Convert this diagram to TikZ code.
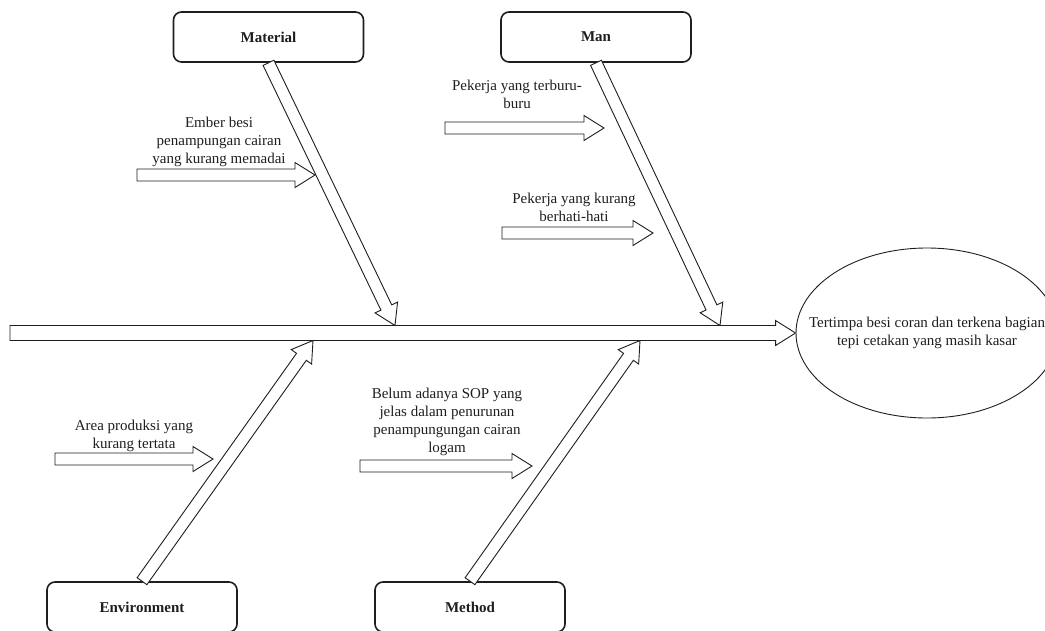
\documentclass[tikz,border=0pt]{standalone}
\usepackage{fontspec}
\setmainfont{Liberation Serif}
\usetikzlibrary{shapes.geometric, positioning, calc}
\definecolor{inkgray}{RGB}{30, 30, 30}

% hollow block arrow: [shaft half width]{from}{to}
\newcommand{\hollowarrow}[3][6pt]{%
  \coordinate (ha-base) at ($(#3)!20pt!(#2)$);
  \draw[arrowline] ($(#2)!#1!90:(#3)$) -- ($(ha-base)!#1!-90:(#2)$)
    -- ($(ha-base)!12.5pt!-90:(#2)$) -- (#3) -- ($(ha-base)!12.5pt!90:(#2)$)
    -- ($(ha-base)!#1!90:(#2)$) -- ($(#2)!#1!-90:(#3)$) -- cycle;
}
\newcommand{\labelsize}{\fontsize{15}{18}\selectfont}

\begin{document}
\begin{tikzpicture}[x=1pt, y=-1pt,
    catbox/.style={draw=inkgray, line width=1.6pt, rounded corners=8pt, fill=white,
          minimum width=190pt, minimum height=50pt, font=\labelsize\bfseries, text=inkgray},
    arrowline/.style={draw=inkgray, line width=0.9pt, fill=white, line join=miter},
    causetext/.style={align=center, inner sep=0pt, font=\labelsize, text=inkgray}]
    \useasboundingbox (0,0) rectangle (1045,630);
    \clip (0,0) rectangle (1045,630);

    % effect
    \node[draw=inkgray, ellipse, line width=0.9pt, minimum width=262pt, minimum height=170pt,
          inner sep=0pt] (effect) at (927,333) {};
    \node[causetext] (effect text) at (effect.center) {Tertimpa besi coran dan terkena bagian\\tepi cetakan yang masih kasar};

    % spine
    \coordinate (spine-start) at (10,333);
    \hollowarrow[7.5pt]{spine-start}{effect.west}

    % categories
    \node[catbox] (material) at (268.5,37) {Material};
    \node[catbox] (man) at (596,37) {Man};
    \node[catbox] (environment) at (142,607) {Environment};
    \node[catbox] (method) at (470,607) {Method};

    \coordinate (mat-tip) at (395,325.5);
    \coordinate (man-tip) at (720,325.5);
    \coordinate (env-tip) at (313,340.5);
    \coordinate (met-tip) at (640,340.5);
    \hollowarrow{material.south}{mat-tip}
    \hollowarrow{man.south}{man-tip}
    \hollowarrow{environment.north}{env-tip}
    \hollowarrow{method.north}{met-tip}

    % causes
    \node[causetext] (ember) at (219,142) {Ember besi\\penampungan cairan\\yang kurang memadai};
    \node[causetext] (rush) at (517,94) {Pekerja yang terburu-\\buru};
    \node[causetext] (careless) at (574,207) {Pekerja yang kurang\\berhati-hati};
    \node[causetext] (area) at (134,436) {Area produksi yang\\kurang tertata};
    \node[causetext] (sop) at (447,422) {Belum adanya SOP yang\\jelas dalam penurunan\\penampungungan cairan\\logam};

    \coordinate (ember-start) at (137,175);
    \coordinate (ember-tip) at (315,175);
    \coordinate (rush-start) at (445,128);
    \coordinate (rush-tip) at (604,128);
    \coordinate (careless-start) at (502,233);
    \coordinate (careless-tip) at (653,233);
    \coordinate (area-start) at (55,459);
    \coordinate (area-tip) at (213,459);
    \coordinate (sop-start) at (360,466);
    \coordinate (sop-tip) at (532,466);
    \hollowarrow{ember-start}{ember-tip}
    \hollowarrow{rush-start}{rush-tip}
    \hollowarrow{careless-start}{careless-tip}
    \hollowarrow{area-start}{area-tip}
    \hollowarrow{sop-start}{sop-tip}
\end{tikzpicture}
\end{document}
